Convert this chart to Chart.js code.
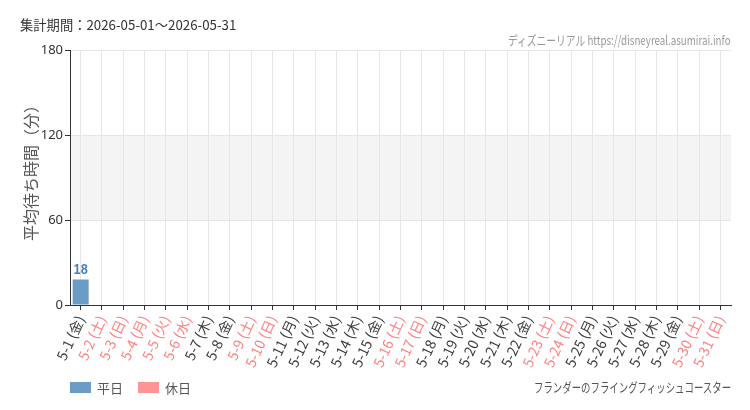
<!DOCTYPE html>
<html>
<head>
<meta charset="utf-8">
<script src="https://cdn.jsdelivr.net/npm/chart.js@4"></script>
<style>
  body { margin: 0; background: #fff; }
  #wrap { position: relative; width: 750px; height: 410px; font-family: "Noto Sans CJK JP", "Noto Sans", sans-serif; }
  #chart { position: absolute; left: 0; top: 0; }
  .txt { position: absolute; white-space: nowrap; line-height: 1; }
  #period { left: 20px; top: 18px; font-size: 13.3px; color: #333; }
  #site { right: 19px; top: 33px; font-size: 13px; color: #999; transform-origin: right center; }
  #ytitle { left: 30px; top: 169px; font-size: 16px; color: #555; transform: translate(-50%, -50%) rotate(-90deg); }
  #footer { right: 19px; top: 380px; font-size: 13px; color: #555; transform-origin: right center; }
  #legend { position: absolute; left: 70px; top: 378px; display: flex; font-size: 13px; color: #555; }
  #legend span.item { display: flex; align-items: center; margin-right: 15px; }
  #legend span.box { display: inline-block; width: 21px; height: 11px; margin-right: 6px; }
</style>
</head>
<body>
<div id="wrap">
  <canvas id="chart" width="750" height="410"></canvas>
  <div class="txt" id="period">集計期間：2026-05-01～2026-05-31</div>
  <div class="txt" id="site">ディズニーリアル https://disneyreal.asumirai.info</div>
  <div class="txt" id="ytitle">平均待ち時間（分）</div>
  <div id="legend"></div>
  <div class="txt" id="footer">フランダーのフライングフィッシュコースター</div>
</div>
<script>
// データ
var dates = ['5-1', '5-2', '5-3', '5-4', '5-5', '5-6', '5-7', '5-8', '5-9', '5-10',
    '5-11', '5-12', '5-13', '5-14', '5-15', '5-16', '5-17', '5-18', '5-19', '5-20',
    '5-21', '5-22', '5-23', '5-24', '5-25', '5-26', '5-27', '5-28', '5-29', '5-30', '5-31'];
var dows = ['金', '土', '日', '月', '火', '水', '木', '金', '土', '日',
    '月', '火', '水', '木', '金', '土', '日', '月', '火', '水',
    '木', '金', '土', '日', '月', '火', '水', '木', '金', '土', '日'];
var holidayDates = ['5-2', '5-3', '5-4', '5-5', '5-6', '5-9', '5-10', '5-16', '5-17', '5-23', '5-24', '5-30', '5-31'];
var weekdayWait = [18, null, null, null, null, null, null, null, null, null,
    null, null, null, null, null, null, null, null, null, null,
    null, null, null, null, null, null, null, null, null, null, null];
var holidayWait = [null, null, null, null, null, null, null, null, null, null,
    null, null, null, null, null, null, null, null, null, null,
    null, null, null, null, null, null, null, null, null, null, null];
var yMin = 0, yMax = 180, yStep = 60;
var bandFrom = 60, bandTo = 120;

var labels = dates.map(function(d, i) { return d + ' (' + dows[i] + ')'; });
var font = '"Noto Sans CJK JP", "Noto Sans", sans-serif';

// 背景と帯
var bandPlugin = {
    id: 'band',
    beforeDraw: function(chart) {
        var c = chart.ctx, a = chart.chartArea, y = chart.scales.y;
        c.save();
        c.fillStyle = '#fff';
        c.fillRect(0, 0, chart.width, chart.height);
        c.fillStyle = '#f4f4f4';
        var top = y.getPixelForValue(bandTo), bot = y.getPixelForValue(bandFrom);
        c.fillRect(a.left, top, a.right - a.left, bot - top);
        c.restore();
    }
};

// 値ラベル（細めの文字）
var valuePlugin = {
    id: 'values',
    afterDatasetsDraw: function(chart) {
        var c = chart.ctx;
        chart.data.datasets.forEach(function(ds, di) {
            var meta = chart.getDatasetMeta(di);
            meta.data.forEach(function(bar, i) {
                if (ds.data[i] == null) return;
                c.save();
                c.translate(bar.x, bar.y - 2);
                c.scale(0.85, 1);
                c.font = '600 15px "Liberation Sans Narrow", sans-serif';
                c.textAlign = 'center';
                c.textBaseline = 'bottom';
                c.fillStyle = ds.labelColor;
                c.fillText(ds.data[i], 0, 0);
                c.restore();
            });
        });
    }
};

var chart = new Chart(document.getElementById('chart').getContext('2d'), {
    type: 'bar',
    data: {
        labels: labels,
        datasets: [{
            label: '平日',
            data: weekdayWait,
            backgroundColor: '#6b9bc7',
            labelColor: '#4a80b8',
            barPercentage: 0.75,
            categoryPercentage: 1,
            grouped: false
        }, {
            label: '休日',
            data: holidayWait,
            backgroundColor: '#ff9494',
            labelColor: '#ff7070',
            barPercentage: 0.75,
            categoryPercentage: 1,
            grouped: false
        }]
    },
    options: {
        responsive: false,
        animation: false,
        layout: { padding: { top: 50, right: 19, left: 0, bottom: 0 } },
        plugins: { legend: { display: false }, tooltip: { enabled: false } },
        scales: {
            x: {
                grid: { color: '#e6e6e6', offset: false, tickColor: '#333', tickLength: 5 },
                border: { color: '#333', width: 1 },
                ticks: {
                    autoSkip: false,
                    maxRotation: 65,
                    minRotation: 65,
                    padding: 3,
                    font: { family: font, size: 14 },
                    color: function(ctx) {
                        return holidayDates.indexOf(dates[ctx.index]) >= 0 ? '#ff8080' : '#3a3a3a';
                    }
                },
                afterFit: function(s) { s.height = 105; }
            },
            y: {
                min: yMin,
                max: yMax,
                grid: { color: '#e6e6e6', tickColor: '#333', tickLength: 5 },
                border: { color: '#333', width: 1 },
                ticks: { stepSize: yStep, padding: 2, color: '#333', font: { family: '"Noto Sans", sans-serif', size: 13 } },
                afterFit: function(s) { s.width = 70; }
            }
        }
    },
    plugins: [bandPlugin, valuePlugin]
});

// 凡例
var legend = document.getElementById('legend');
chart.data.datasets.forEach(function(ds) {
    var item = document.createElement('span');
    item.className = 'item';
    item.innerHTML = '<span class="box" style="background:' + ds.backgroundColor + '"></span>' + ds.label;
    legend.appendChild(item);
});

// 細い文字
function squeeze(id, w) {
    var el = document.getElementById(id);
    el.style.transform = 'scaleX(' + (w / el.offsetWidth) + ')';
}
squeeze('site', 223);
squeeze('footer', 197);
</script>
</body>
</html>
